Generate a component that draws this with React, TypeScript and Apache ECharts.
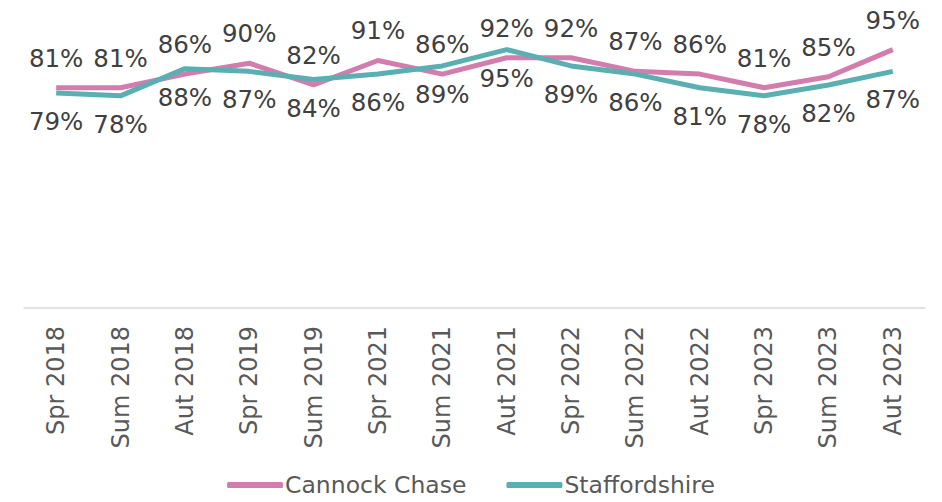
import React, { useEffect, useRef } from "react";
import * as echarts from "echarts";

const categories = [
  "Spr 2018", "Sum 2018", "Aut 2018", "Spr 2019", "Sum 2019", "Spr 2021", "Sum 2021",
  "Aut 2021", "Spr 2022", "Sum 2022", "Aut 2022", "Spr 2023", "Sum 2023", "Aut 2023",
];
const cannockChase = [81, 81, 86, 90, 82, 91, 86, 92, 92, 87, 86, 81, 85, 95];
const staffordshire = [79, 78, 88, 87, 84, 86, 89, 95, 89, 86, 81, 78, 82, 87];

const FONT = "DejaVu Sans";

export default function App() {
  const ref = useRef<HTMLDivElement>(null);
  useEffect(() => {
    if (!ref.current) return;
    const chart = echarts.init(ref.current, undefined, { renderer: "svg" });
    chart.setOption({
      animation: false,
      textStyle: { fontFamily: FONT },
      grid: { left: 24, right: 17, top: 36, bottom: 194, containLabel: false },
      legend: {
        bottom: 0,
        left: "center",
        itemWidth: 56,
        itemHeight: 6,
        itemGap: 40,
        icon: "roundRect",
        textStyle: { fontFamily: FONT, fontSize: 23.5, color: "#595959", padding: [0, 0, 0, -3] },
        data: ["Cannock Chase", "Staffordshire"],
      },
      xAxis: {
        type: "category",
        data: categories,
        boundaryGap: true,
        axisLine: { lineStyle: { color: "#d9d9d9", width: 1.5 } },
        axisTick: { show: false },
        axisLabel: {
          rotate: 90,
          fontFamily: FONT,
          fontSize: 24,
          color: "#595959",
          margin: 18,
          interval: 0,
        },
      },
      yAxis: {
        type: "value",
        min: 0,
        max: 100,
        show: false,
        splitLine: { show: false },
      },
      series: [
        {
          name: "Cannock Chase",
          type: "line",
          data: cannockChase,
          showSymbol: true,
          symbol: "circle",
          symbolSize: 0.1,
          lineStyle: { color: "#D37DAE", width: 5 },
          itemStyle: { color: "#D37DAE" },
          label: {
            show: true,
            position: "top",
            distance: 17,
            formatter: "{c}%",
            fontFamily: FONT,
            fontSize: 24.5,
            color: "#404040",
          },
        },
        {
          name: "Staffordshire",
          type: "line",
          data: staffordshire,
          showSymbol: true,
          symbol: "circle",
          symbolSize: 0.1,
          lineStyle: { color: "#5AAFB2", width: 5 },
          itemStyle: { color: "#5AAFB2" },
          label: {
            show: true,
            position: "bottom",
            distance: 16,
            formatter: "{c}%",
            fontFamily: FONT,
            fontSize: 24.5,
            color: "#404040",
          },
        },
      ],
    });
    return () => chart.dispose();
  }, []);
  return (
    <div
      ref={ref}
      style={{ position: "absolute", left: 0, top: 0, width: 942, height: 502 }}
    />
  );
}
